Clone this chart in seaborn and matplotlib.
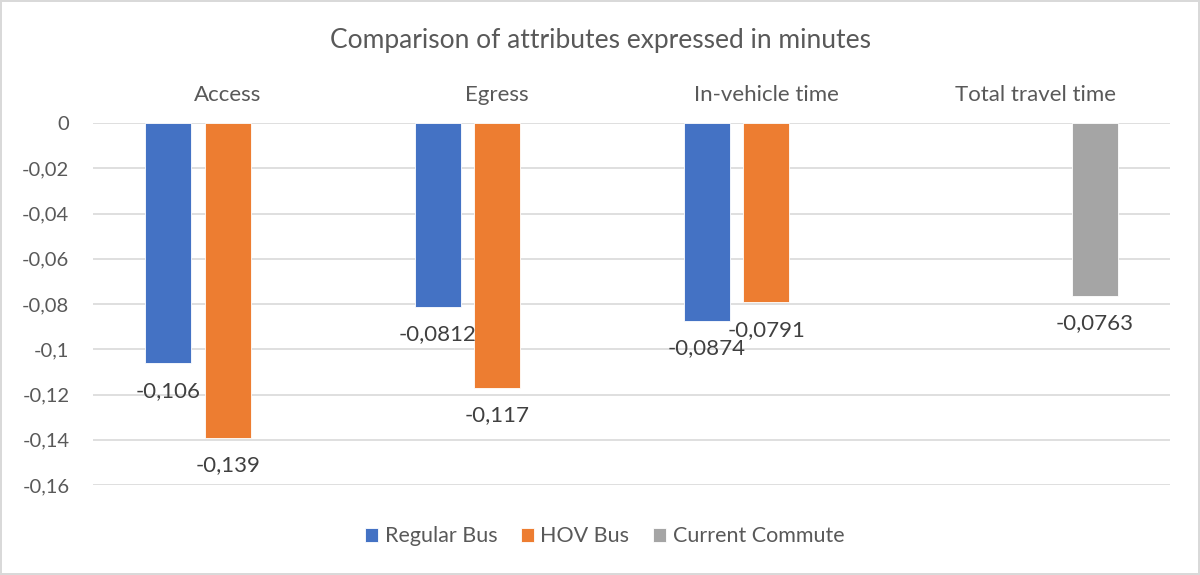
import pandas as pd
import matplotlib.pyplot as plt
import seaborn as sns

categories = ['Access', 'Egress', 'In-vehicle time', 'Total travel time']
series = ['Regular Bus', 'HOV Bus', 'Current Commute']
regular_bus = [-0.106, -0.0812, -0.0874]
hov_bus = [-0.139, -0.117, -0.0791]
current_commute = [-0.0763]
yticks = [0, -0.02, -0.04, -0.06, -0.08, -0.1, -0.12, -0.14, -0.16]

rows = []
for cat, v in zip(categories[:3], regular_bus):
    rows.append((cat, 'Regular Bus', v))
for cat, v in zip(categories[:3], hov_bus):
    rows.append((cat, 'HOV Bus', v))
rows.append((categories[3], 'Current Commute', current_commute[0]))
df = pd.DataFrame(rows, columns=['category', 'series', 'value'])

sns.set_theme(style='white')
plt.rcParams['font.family'] = ['Lato', 'DejaVu Sans']

colors = {'Regular Bus': '#4472C4', 'HOV Bus': '#ED7D31', 'Current Commute': '#A5A5A5'}

fig = plt.figure(figsize=(12, 5.75), dpi=100)
fig.patch.set_edgecolor('#d9d9d9')
fig.patch.set_linewidth(1.5)
ax = fig.add_axes([0.0775, 0.1565, 0.8975, 0.6295])

sns.barplot(data=df, x='category', y='value', hue='series', order=categories,
            hue_order=series, palette=colors, saturation=1, width=0.66, gap=0.22,
            edgecolor='white', linewidth=0.6, ax=ax)

ax.set_ylim(-0.16, 0)
ax.set_xlim(-0.5, 3.5)
ax.set_yticks(yticks)
ax.set_yticklabels(['0' if v == 0 else f'{v:g}'.replace('.', ',') for v in yticks])
ax.yaxis.grid(True, color='#d9d9d9', linewidth=1.2)
ax.set_axisbelow(True)
for s in ax.spines.values():
    s.set_visible(False)
ax.xaxis.tick_top()
ax.tick_params(axis='x', length=0, pad=13, labelsize=16, labelcolor='#595959')
ax.tick_params(axis='y', length=0, pad=17, labelsize=14.5, labelcolor='#595959')
ax.set_xlabel('')
ax.set_ylabel('')

for cont in ax.containers:
    for bar in cont:
        h = bar.get_height()
        if pd.isna(h):
            continue
        x = bar.get_x() + bar.get_width() / 2
        ax.annotate(f'{h:g}'.replace('.', ','), (x, h), xytext=(0, -20),
                    textcoords='offset points', ha='center', va='center',
                    fontsize=16, color='#404040')

ax.legend(loc='center', bbox_to_anchor=(0.504, 0.067), bbox_transform=fig.transFigure,
          ncol=3, frameon=False, fontsize=15.5, labelcolor='#595959',
          handlelength=0.6, handleheight=0.6, handletextpad=0.3, columnspacing=1.1)

fig.text(0.5, 0.93, 'Comparison of attributes expressed in minutes',
         ha='center', va='center', fontsize=19, color='#595959')

fig.savefig('out.png', dpi=100)
